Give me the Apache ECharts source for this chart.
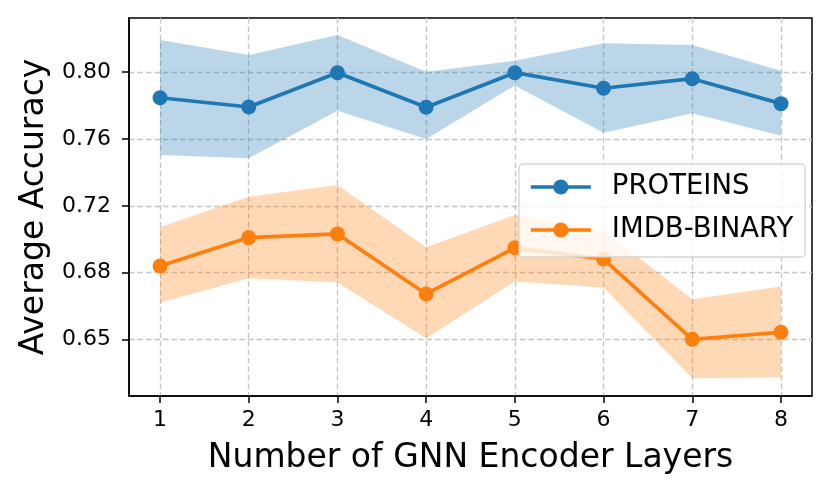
<!DOCTYPE html>
<html>
<head>
<meta charset="utf-8">
<script src="https://cdn.jsdelivr.net/npm/echarts@6/dist/echarts.min.js"></script>
<style>
html,body{margin:0;padding:0;background:#fff;}
#chart{width:830px;height:495px;}
</style>
</head>
<body>
<div id="chart"></div>
<script>
const layers = [1, 2, 3, 4, 5, 6, 7, 8];
const proteinsMean  = [0.7896, 0.7841, 0.8046, 0.7839, 0.8046, 0.7953, 0.8010, 0.7861];
const proteinsUpper = [0.8241, 0.8152, 0.8271, 0.8052, 0.8118, 0.8222, 0.8211, 0.8058];
const proteinsLower = [0.7554, 0.7534, 0.7819, 0.7650, 0.7970, 0.7687, 0.7803, 0.7669];
const imdbMean  = [0.6890, 0.7060, 0.7082, 0.6723, 0.6999, 0.6932, 0.6452, 0.6494];
const imdbUpper = [0.7122, 0.7305, 0.7375, 0.7002, 0.7195, 0.7103, 0.6691, 0.6767];
const imdbLower = [0.6671, 0.6817, 0.6791, 0.6458, 0.6797, 0.6761, 0.6219, 0.6225];
const yTickValues = [0.645, 0.685, 0.725, 0.765, 0.805];
const yTickLabels = ['0.65', '0.68', '0.72', '0.76', '0.80'];
const xTickValues = [1, 2, 3, 4, 5, 6, 7, 8];

const FONT = 'DejaVu Sans';
const BLUE = '#1f77b4';
const ORANGE = '#ff7f0e';

const pairs = (ys) => layers.map((x, i) => [x, ys[i]]);

function band(name, up, lo, color) {
  return {
    name: name, type: 'custom', silent: true, z: 1,
    data: layers.map((x, i) => [x, lo[i], up[i]]),
    encode: { x: 0, y: [1, 2] },
    clip: true,
    renderItem: (params, api) => {
      if (params.dataIndex !== 0) return null;
      const top = layers.map((x, i) => api.coord([x, up[i]]));
      const bot = layers.map((x, i) => api.coord([x, lo[i]])).reverse();
      return {
        type: 'polygon',
        shape: { points: top.concat(bot) },
        style: { fill: color, opacity: 0.3, stroke: null }
      };
    }
  };
}

const chart = echarts.init(document.getElementById('chart'), null, { renderer: 'canvas' });
const gridLine = { show: true, lineStyle: { color: '#c4c4c4', width: 1.3, type: [5.5, 3] } };

chart.setOption({
  animation: false,
  backgroundColor: '#ffffff',
  textStyle: { fontFamily: FONT },
  grid: { left: 129, right: 18, top: 18, bottom: 99, show: true, borderColor: '#000', borderWidth: 1.5, backgroundColor: 'transparent' },
  xAxis: {
    type: 'value', min: 0.65, max: 8.35,
    name: 'Number of GNN Encoder Layers', nameLocation: 'middle', nameGap: 46,
    nameTextStyle: { fontFamily: FONT, fontSize: 33, color: '#000' },
    axisLine: { show: true, lineStyle: { color: '#000', width: 1.5 } },
    axisTick: { show: true, customValues: xTickValues, length: 7, lineStyle: { color: '#000', width: 1.5 } },
    axisLabel: { customValues: xTickValues, fontFamily: FONT, fontSize: 22, color: '#000', margin: 13 },
    splitLine: gridLine
  },
  yAxis: {
    type: 'value', min: 0.6113, max: 0.8373,
    name: 'Average Accuracy', nameLocation: 'middle', nameGap: 78, nameRotate: 90,
    nameTextStyle: { fontFamily: FONT, fontSize: 33, color: '#000' },
    axisLine: { show: true, lineStyle: { color: '#000', width: 1.5 } },
    axisTick: { show: true, customValues: yTickValues, length: 7, lineStyle: { color: '#000', width: 1.5 } },
    axisLabel: {
      customValues: yTickValues, fontFamily: FONT, fontSize: 22, color: '#000', margin: 18,
      formatter: (v) => {
        const i = yTickValues.findIndex(t => Math.abs(t - v) < 1e-6);
        return i >= 0 ? yTickLabels[i] : '';
      }
    },
    splitLine: gridLine
  },
  legend: {
    data: ['PROTEINS', 'IMDB-BINARY'],
    left: 519, top: 164,
    orient: 'vertical',
    padding: [9, 12, 13, 10],
    itemGap: 15,
    itemWidth: 60, itemHeight: 19,
    lineStyle: { width: 3.7 },
    backgroundColor: 'rgba(255,255,255,0.8)',
    borderColor: 'rgba(204,204,204,0.8)', borderWidth: 1.3, borderRadius: 4,
    textStyle: { fontFamily: FONT, fontSize: 27.5, color: '#000', padding: [0, 0, 0, 16] },
    z: 10
  },
  series: [
    band('p_band', proteinsUpper, proteinsLower, BLUE),
    band('i_band', imdbUpper, imdbLower, ORANGE),
    { name: 'PROTEINS', type: 'line', data: pairs(proteinsMean), symbol: 'circle', symbolSize: 15,
      lineStyle: { color: BLUE, width: 3.7 }, itemStyle: { color: BLUE }, z: 3 },
    { name: 'IMDB-BINARY', type: 'line', data: pairs(imdbMean), symbol: 'circle', symbolSize: 15,
      lineStyle: { color: ORANGE, width: 3.7 }, itemStyle: { color: ORANGE }, z: 3 }
  ]
});
</script>
</body>
</html>
